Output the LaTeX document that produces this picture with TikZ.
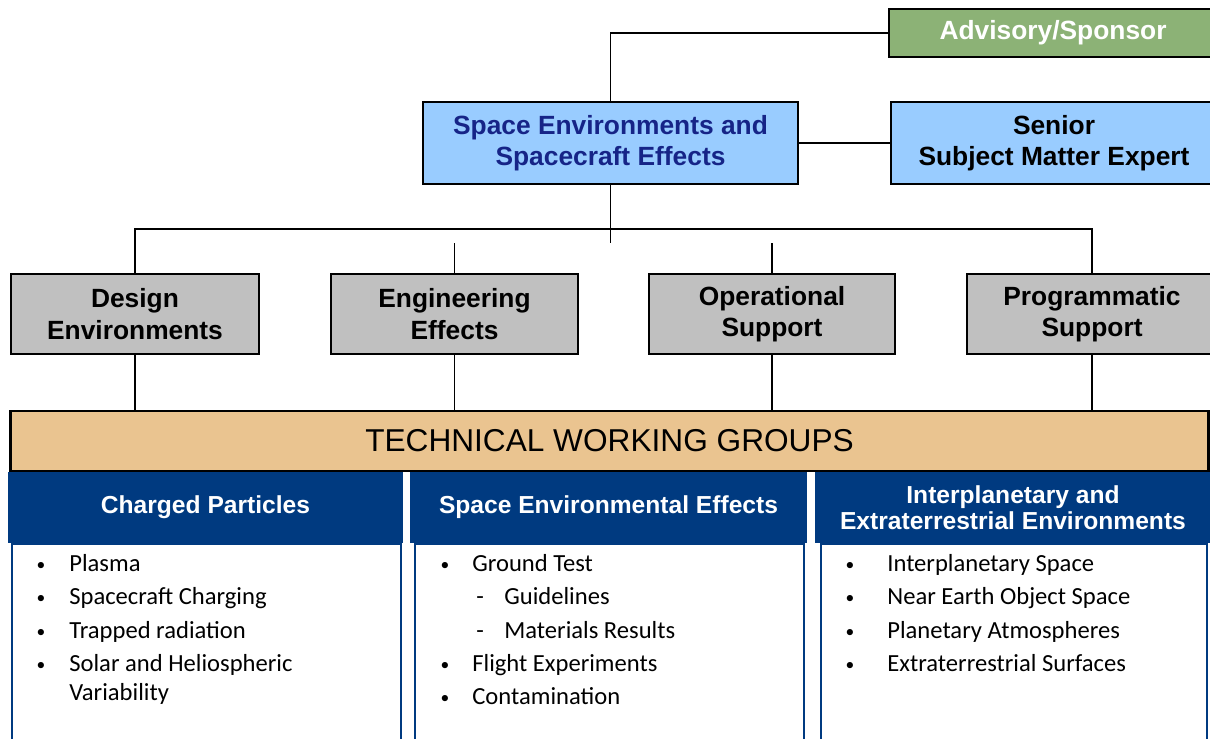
\documentclass[tikz,border=0pt]{standalone}
\usepackage{fontspec}
\setmainfont{Liberation Sans}
\newfontfamily\bodyfont{Carlito}
\usetikzlibrary{positioning}
\definecolor{advgreen}{RGB}{140,178,118}
\definecolor{lightblue}{RGB}{153,204,255}
\definecolor{boxgray}{RGB}{192,192,192}
\definecolor{tan}{RGB}{234,196,144}
\definecolor{navy}{RGB}{0,58,128}
\definecolor{setext}{RGB}{22,36,135}
\begin{document}
\begin{tikzpicture}[x=0.02cm,y=-0.02cm,
  box/.style={draw=black,line width=1.6pt,inner sep=0pt,align=center,
    font=\bfseries\fontsize{15}{18}\selectfont},
  head/.style={fill=navy,draw=navy,line width=1pt,inner sep=0pt,align=center,
    minimum height=1.38cm,text=white,font=\bfseries\fontsize{14}{14.5}\selectfont},
  body/.style={draw=navy,line width=1.1pt,fill=white,inner sep=0pt,minimum height=4.2cm},
  item/.style={anchor=base west,inner sep=0pt,font=\bodyfont\fontsize{14}{16}\selectfont},
  dot/.style={anchor=base,inner sep=0pt,font=\bodyfont\fontsize{10}{12}\selectfont},
  link/.style={line width=0.9pt}]
\useasboundingbox[fill=white] (0,0) rectangle (1210,738);
%Верхний уровень
\node[box,fill=advgreen,text=white,minimum width=6.56cm,minimum height=0.96cm] (adv) at (1053,33) {Advisory/Sponsor};
\node[box,fill=lightblue,text=setext,minimum width=7.5cm,minimum height=1.64cm] (se) at (610.5,143) {Space Environments and\\Spacecraft Effects};
\node[box,fill=lightblue,minimum width=6.52cm,minimum height=1.64cm] (sme) at (1054,143) {Senior\\Subject Matter Expert};
\draw[link] (adv.west) -| (se.north);
\draw[link] (se.east) -- (sme.west);
%Второй уровень
\node[box,fill=boxgray,minimum width=4.96cm,minimum height=1.6cm] (design) at (135,314) {Design\\Environments};
\node[box,fill=boxgray,minimum width=4.94cm,minimum height=1.6cm] (eng) at (454.5,314) {Engineering\\Effects};
\node[box,fill=boxgray,minimum width=4.92cm,minimum height=1.6cm] (ops) at (772,314) {Operational\\Support};
\node[box,fill=boxgray,minimum width=5cm,minimum height=1.6cm] (prog) at (1092,314) {Programmatic\\Support};
\coordinate (bus) at (0,229);%уровень шины
\coordinate (stub) at (0,243);%конец отводов
\draw[link] (design.north) -- (design.north |- bus) -- (prog.north |- bus) -- (prog.north);
\draw[link] (se.south) -- (se.south |- stub);
\draw[link] (eng.north) -- (eng.north |- stub);
\draw[link] (ops.north) -- (ops.north |- stub);
%Рабочие группы
\node[box,fill=tan,minimum width=23.98cm,minimum height=1.2cm,font=\fontsize{18}{20}\selectfont] (twg) at (609.5,441) {TECHNICAL WORKING GROUPS};
\draw[link] (design.south) -- (design.south |- twg.north);
\draw[link] (eng.south) -- (eng.south |- twg.north);
\draw[link] (ops.south) -- (ops.south |- twg.north);
\draw[link] (prog.south) -- (prog.south |- twg.north);
%Колонки
\node[body,minimum width=7.78cm,anchor=north] (cpbody) at (206.5,543) {};
\node[body,minimum width=7.78cm,anchor=north] (seebody) at (609.5,543) {};
\node[body,minimum width=7.72cm,anchor=north] (iebody) at (1014,543) {};
\node[head,minimum width=7.86cm] (cp) at (205.5,507.5) {Charged Particles};
\node[head,minimum width=7.9cm] (see) at (608.5,507.5) {Space Environmental Effects};
\node[head,minimum width=7.88cm] (ie) at (1013,507.5) {Interplanetary and\\Extraterrestrial Environments};
%Пункты первой колонки
\node[dot] (cpb1) at (41,570) {\textbullet};
\node[item] (cp1) at (69,571) {Plasma};
\node[dot] (cpb2) at (41,603) {\textbullet};
\node[item] (cp2) at (69,604) {Spacecraft Charging};
\node[dot] (cpb3) at (41,637) {\textbullet};
\node[item] (cp3) at (69,638) {Trapped radiation};
\node[dot] (cpb4) at (41,670) {\textbullet};
\node[item] (cp4) at (69,671) {Solar and Heliospheric};
\node[item] (cp5) at (69,700) {Variability};
%Пункты второй колонки
\node[dot] (seeb1) at (445,570) {\textbullet};
\node[item] (see1) at (472,571) {Ground Test};
\node[item] (seed2) at (476,604) {-};
\node[item] (see2) at (504,604) {Guidelines};
\node[item] (seed3) at (476,638) {-};
\node[item] (see3) at (504,638) {Materials Results};
\node[dot] (seeb4) at (445,670) {\textbullet};
\node[item] (see4) at (472,671) {Flight Experiments};
\node[dot] (seeb5) at (445,703) {\textbullet};
\node[item] (see5) at (472,704) {Contamination};
%Пункты третьей колонки
\node[dot] (ieb1) at (850,570) {\textbullet};
\node[item] (ie1) at (887,571) {Interplanetary Space};
\node[dot] (ieb2) at (850,603) {\textbullet};
\node[item] (ie2) at (887,604) {Near Earth Object Space};
\node[dot] (ieb3) at (850,637) {\textbullet};
\node[item] (ie3) at (887,638) {Planetary Atmospheres};
\node[dot] (ieb4) at (850,670) {\textbullet};
\node[item] (ie4) at (887,671) {Extraterrestrial Surfaces};
\end{tikzpicture}
\end{document}
